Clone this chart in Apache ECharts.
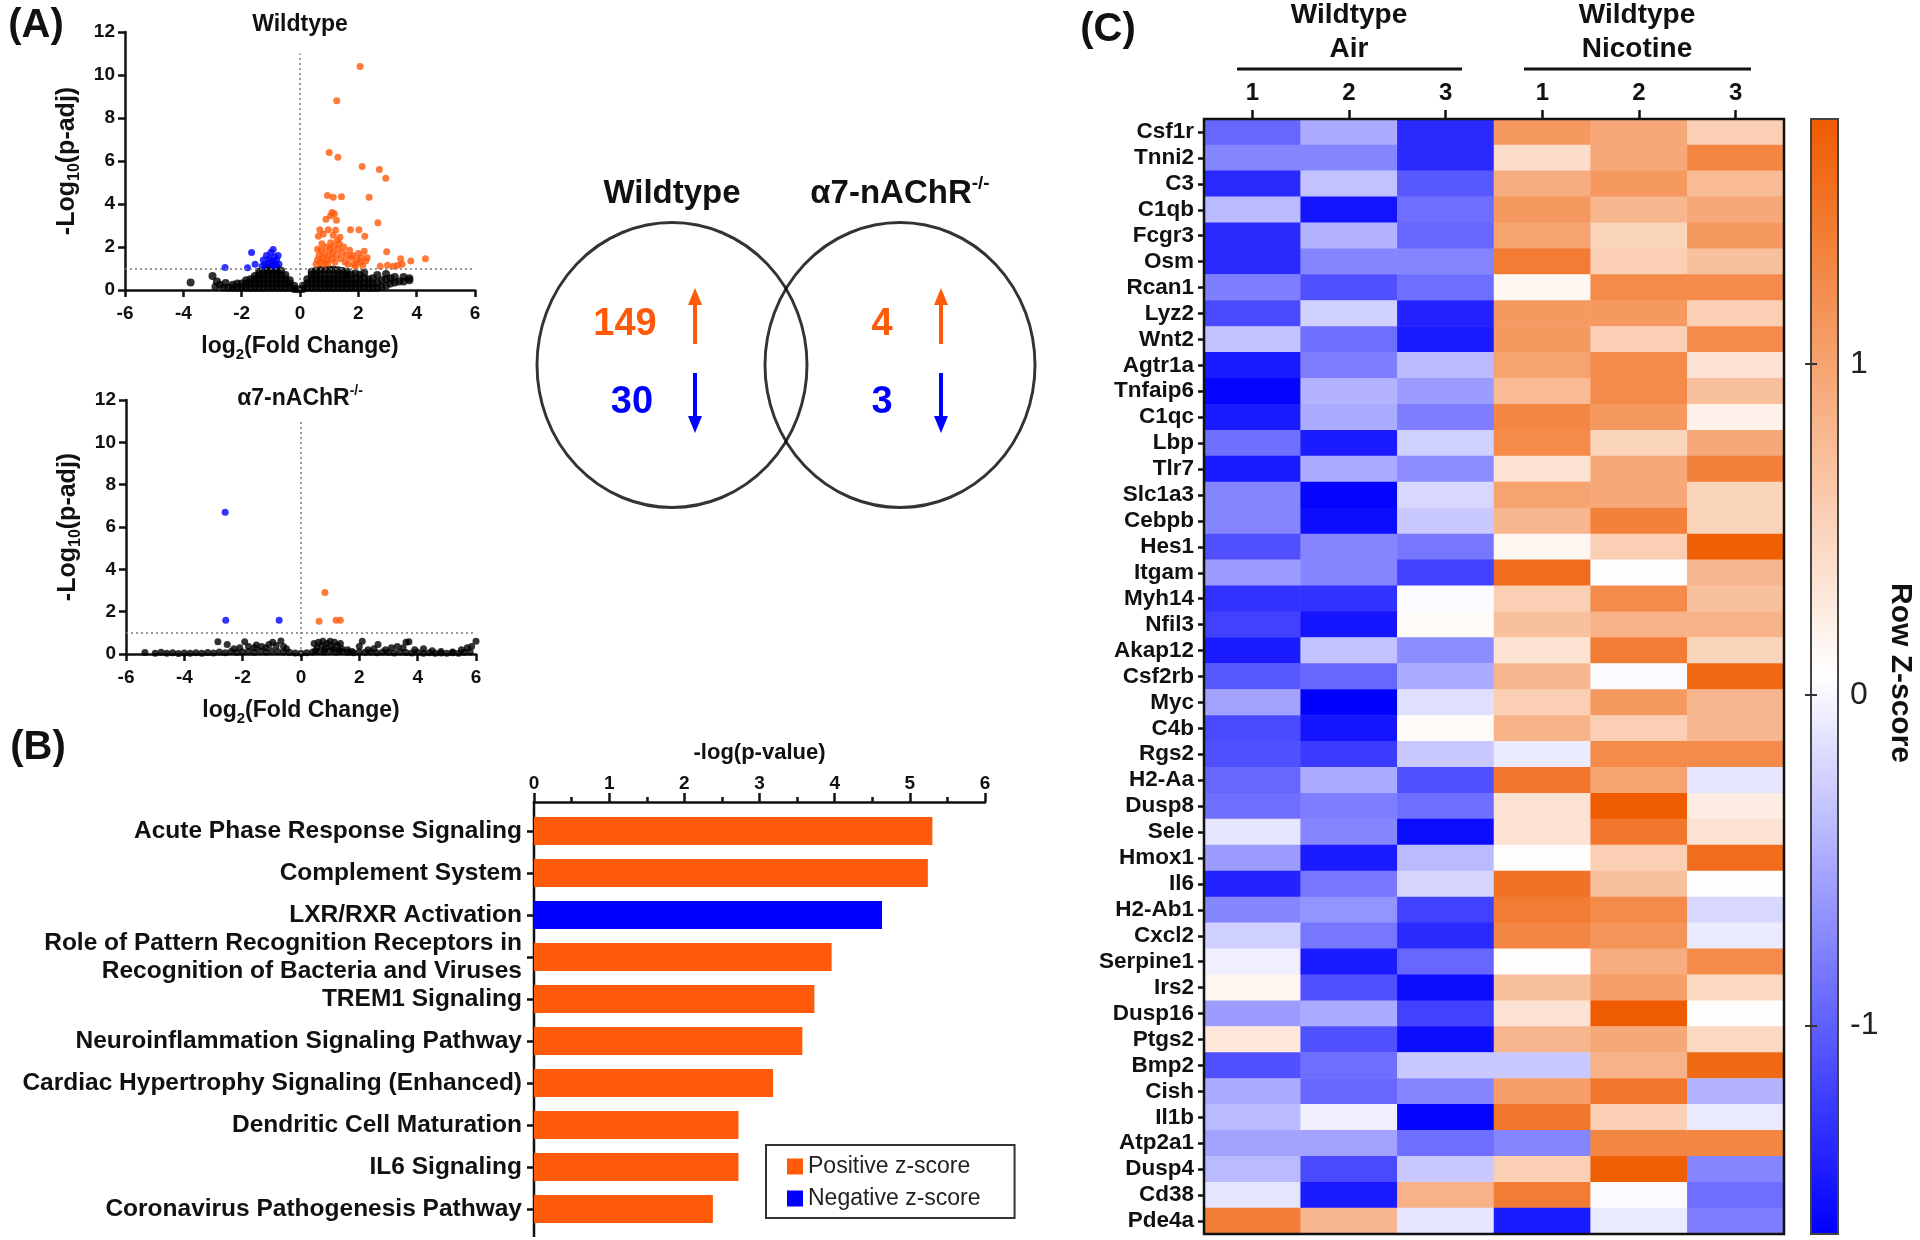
<!DOCTYPE html>
<html>
<head>
<meta charset="utf-8">
<script src="https://cdn.jsdelivr.net/npm/echarts@6/dist/echarts.min.js"></script>
<style>
html, body { margin: 0; padding: 0; background: #fff; }
#chart { width: 1920px; height: 1240px; }
</style>
</head>
<body>
<div id="chart"></div>
<script>
const FONT = 'Liberation Sans, Arial, sans-serif';
const ORANGE = '#FF5A0A';
const BLUE = '#0000FF';
const INK = '#111';

// ---- (A) volcano plots: [log2FC, -log10(p-adj)]
const wtUp = [[2.06,10.4],[1.26,8.8],[1.0,6.4],[1.3,6.17],[2.13,5.74],[2.72,5.6],[2.94,5.2],[0.94,4.39],[1.14,4.31],
  [1.42,4.34],[2.37,4.31],[1.1,3.6],[1.18,3.55],[1.05,3.45],[1.25,3.25],[0.89,3.29],[2.67,3.13],[0.68,2.8],[0.97,2.8],
  [1.22,2.78],[1.73,2.8],[2.02,2.8],[0.63,2.5],[1.14,2.55],[1.37,2.45],[2.22,2.5],[0.8,2.6],[0.55,1.2],[0.6,1.4],
  [0.65,1.6],[0.7,1.3],[0.72,1.85],[0.78,1.5],[0.82,1.2],[0.85,1.7],[0.9,2.0],[0.92,1.4],[0.95,1.25],[1.0,1.6],
  [1.03,1.9],[1.05,2.2],[1.1,1.45],[1.12,1.75],[1.15,2.05],[1.2,1.3],[1.25,1.6],[1.3,1.9],[1.35,2.15],[1.4,1.45],
  [1.45,1.75],[1.5,2.0],[1.55,1.3],[1.6,1.6],[0.6,1.9],[0.75,2.15],[1.28,2.3],[1.65,1.2],[1.7,1.85],[1.75,1.5],
  [1.8,1.6],[1.85,1.2],[1.95,1.4],[2.0,1.7],[2.05,1.3],[2.1,1.5],[2.15,1.15],[2.2,1.8],[2.25,1.35],[2.3,1.5],
  [1.9,1.1],[2.97,1.78],[3.0,1.15],[3.2,1.1],[3.35,1.15],[3.45,1.45],[3.5,1.2],[3.8,1.35],[4.3,1.45],[2.75,1.1]];
const wtDown = [[-2.57,1.05],[-1.8,1.04],[-1.66,1.75],[-1.54,1.2],[-1.26,1.4],[-1.2,1.2],[-1.15,1.6],[-1.1,1.25],
  [-1.05,1.45],[-1.0,1.75],[-0.95,1.1],[-0.92,1.88],[-0.9,1.3],[-0.88,1.55],[-0.85,1.15],[-0.8,1.4],[-0.75,1.6],
  [-0.72,1.2],[-1.3,1.1],[-0.98,1.35]];
const wtNs = [[-3.75,0.35],[-3.0,0.65],[-2.9,0.15],[-2.85,0.4],[-2.75,0.25],[-2.62,0.12],[-2.55,0.32],[-2.45,0.1],
  [-2.3,0.1],[-2.3,0.25],[-2.15,0.1],[-2.15,0.3],[-2.0,0.1],[-2.0,0.3],[-1.85,0.1],[-1.85,0.3],[-1.85,0.45],
  [-1.7,0.1],[-1.7,0.3],[-1.7,0.5],[-1.55,0.1],[-1.55,0.3],[-1.55,0.5],[-1.55,0.65],
  [-1.4,0.1],[-1.4,0.3],[-1.4,0.5],[-1.4,0.7],[-1.4,0.85],[-1.25,0.1],[-1.25,0.3],[-1.25,0.5],[-1.25,0.7],[-1.25,0.9],
  [-1.1,0.1],[-1.1,0.3],[-1.1,0.5],[-1.1,0.7],[-1.1,0.9],[-1.1,1.05],[-0.95,0.1],[-0.95,0.3],[-0.95,0.5],[-0.95,0.7],
  [-0.95,0.9],[-0.95,1.08],[-0.8,0.1],[-0.8,0.3],[-0.8,0.5],[-0.8,0.7],[-0.8,0.9],[-0.8,1.05],
  [-0.65,0.1],[-0.65,0.3],[-0.65,0.5],[-0.65,0.7],[-0.65,0.9],[-0.5,0.1],[-0.5,0.3],[-0.5,0.5],[-0.5,0.7],
  [-0.35,0.1],[-0.35,0.3],[-0.35,0.45],[-0.2,0.05],[-0.2,0.2],[-0.08,0.04],
  [0.1,0.05],[0.1,0.2],[0.25,0.1],[0.25,0.3],[0.25,0.5],[0.4,0.1],[0.4,0.3],[0.4,0.5],[0.4,0.7],[0.4,0.85],
  [0.55,0.1],[0.55,0.3],[0.55,0.5],[0.55,0.7],[0.55,0.9],[0.7,0.1],[0.7,0.3],[0.7,0.5],[0.7,0.7],[0.7,0.95],
  [0.85,0.1],[0.85,0.3],[0.85,0.5],[0.85,0.7],[0.85,0.95],[1.0,0.1],[1.0,0.3],[1.0,0.5],[1.0,0.7],[1.0,0.95],
  [1.15,0.1],[1.15,0.3],[1.15,0.5],[1.15,0.7],[1.15,0.95],[1.3,0.1],[1.3,0.3],[1.3,0.5],[1.3,0.7],[1.3,0.92],
  [1.45,0.1],[1.45,0.3],[1.45,0.5],[1.45,0.7],[1.45,0.88],[1.6,0.1],[1.6,0.3],[1.6,0.5],[1.6,0.7],[1.6,0.85],
  [1.75,0.1],[1.75,0.3],[1.75,0.5],[1.75,0.72],[1.9,0.1],[1.9,0.3],[1.9,0.5],[1.9,0.78],
  [2.05,0.1],[2.05,0.3],[2.05,0.5],[2.05,0.7],[2.2,0.1],[2.2,0.3],[2.2,0.55],[2.2,0.8],
  [2.35,0.1],[2.35,0.3],[2.35,0.5],[2.5,0.1],[2.5,0.3],[2.5,0.55],[2.65,0.1],[2.65,0.35],[2.65,0.7],
  [2.8,0.15],[2.8,0.45],[2.95,0.2],[2.95,0.5],[2.95,0.75],[3.1,0.3],[3.1,0.55],[3.25,0.35],[3.25,0.6],
  [3.4,0.4],[3.55,0.6],[3.55,0.4],[3.75,0.45],[3.75,0.55]];

const koUp = [[0.82,2.9],[0.62,1.55],[1.2,1.6],[1.35,1.6]];
const koDown = [[-2.6,6.7],[-2.58,1.6],[-0.75,1.6]];
const koNs = [[-5.35,0.07],[-5.0,0.03],[-4.8,0.08],[-4.6,0.04],[-4.4,0.06],[-4.2,0.02],[-4.0,0.05],[-3.8,0.03],
  [-3.6,0.06],[-3.4,0.04],[-3.2,0.07],[-3.0,0.05],[-2.8,0.1],[-2.6,0.06],[-2.4,0.12],[-2.2,0.08],[-2.0,0.1],
  [-1.8,0.12],[-1.6,0.08],[-1.4,0.14],[-1.2,0.1],[-1.0,0.15],[-0.8,0.12],[-0.6,0.1],[-0.4,0.08],[-0.2,0.05],
  [0.0,0.03],[0.2,0.06],[0.4,0.1],[0.6,0.12],[0.8,0.1],[1.0,0.14],[1.2,0.1],[1.4,0.12],[1.6,0.08],[1.8,0.06],
  [2.0,0.1],[2.2,0.08],[2.4,0.1],[2.6,0.06],[2.8,0.1],[3.0,0.08],[3.2,0.05],[3.4,0.1],[3.6,0.07],[3.8,0.05],
  [4.0,0.08],[4.2,0.04],[4.4,0.06],[4.6,0.03],[4.8,0.05],[5.0,0.04],[5.2,0.06],[5.4,0.03],[5.6,0.08],[5.8,0.1],
  [-2.85,0.58],[-2.53,0.45],[-2.3,0.25],[-2.1,0.3],[-1.93,0.58],[-1.8,0.35],[-1.6,0.3],[-1.53,0.42],[-1.35,0.35],
  [-1.2,0.3],[-1.1,0.45],[-0.97,0.55],[-0.85,0.4],[-0.69,0.62],[-0.6,0.35],[-0.5,0.25],
  [0.45,0.5],[0.55,0.3],[0.6,0.55],[0.7,0.4],[0.75,0.6],[0.85,0.3],[0.9,0.5],[1.0,0.6],[1.05,0.35],[1.15,0.55],
  [1.25,0.4],[1.35,0.5],[1.4,0.25],[0.5,0.15],[0.8,0.2],[1.1,0.22],[1.3,0.18],
  [1.6,0.2],[1.75,0.12],[2.0,0.35],[2.1,0.6],[2.3,0.2],[2.5,0.25],[2.64,0.45],[2.9,0.2],[3.1,0.3],[3.3,0.35],
  [3.5,0.3],[3.6,0.55],[3.7,0.58],[3.9,0.2],[4.2,0.25],[4.5,0.15],[4.8,0.12],[5.2,0.1],[5.5,0.2],[5.7,0.3],
  [5.85,0.35],[6.0,0.6]];
const pAdjCut = 1;
const zeroLineTop = 11;

// ---- Venn counts
const vennUp = [149, 4];
const vennDown = [30, 3];

// ---- (B) pathways
const pathways = ['Acute Phase Response Signaling', 'Complement System', 'LXR/RXR Activation',
  'Role of Pattern Recognition Receptors in\nRecognition of Bacteria and Viruses', 'TREM1 Signaling',
  'Neuroinflammation Signaling Pathway', 'Cardiac Hypertrophy Signaling (Enhanced)', 'Dendritic Cell Maturation',
  'IL6 Signaling', 'Coronavirus Pathogenesis Pathway'];
const pathwayScores = [5.30, 5.24, 4.63, 3.96, 3.73, 3.57, 3.18, 2.72, 2.72, 2.38];
const pathwayZSign = [1, 1, -1, 1, 1, 1, 1, 1, 1, 1];

// ---- (C) heatmap
const sampleIds = ['Air 1', 'Air 2', 'Air 3', 'Nicotine 1', 'Nicotine 2', 'Nicotine 3'];
const sampleLabels = ['1', '2', '3', '1', '2', '3'];
const genes = ['Csf1r','Tnni2','C3','C1qb','Fcgr3','Osm','Rcan1','Lyz2','Wnt2','Agtr1a','Tnfaip6','C1qc','Lbp',
  'Tlr7','Slc1a3','Cebpb','Hes1','Itgam','Myh14','Nfil3','Akap12','Csf2rb','Myc','C4b','Rgs2','H2-Aa','Dusp8',
  'Sele','Hmox1','Il6','H2-Ab1','Cxcl2','Serpine1','Irs2','Dusp16','Ptgs2','Bmp2','Cish','Il1b','Atp2a1','Dusp4',
  'Cd38','Pde4a'];
const zScores = [
  [-0.95,-0.50,-1.35, 1.10, 0.95, 0.55],
  [-0.75,-0.75,-1.35, 0.40, 0.95, 1.30],
  [-1.35,-0.35,-1.05, 0.90, 1.10, 0.75],
  [-0.40,-1.50,-0.90, 1.10, 0.80, 0.95],
  [-1.35,-0.45,-0.95, 1.00, 0.50, 1.10],
  [-1.35,-0.75,-0.75, 1.40, 0.55, 0.70],
  [-0.80,-1.10,-0.90, 0.15, 1.25, 1.25],
  [-1.15,-0.25,-1.40, 1.10, 1.10, 0.55],
  [-0.35,-0.90,-1.45, 1.10, 0.55, 1.25],
  [-1.45,-0.80,-0.40, 1.00, 1.25, 0.35],
  [-1.60,-0.45,-0.60, 0.75, 1.25, 0.70],
  [-1.45,-0.50,-0.80, 1.30, 1.10, 0.20],
  [-0.90,-1.45,-0.25, 1.25, 0.50, 0.95],
  [-1.45,-0.50,-0.70, 0.35, 0.95, 1.35],
  [-0.75,-1.60,-0.20, 1.00, 0.95, 0.50],
  [-0.75,-1.55,-0.30, 0.80, 1.35, 0.50],
  [-1.10,-0.75,-0.85, 0.15, 0.55, 1.70],
  [-0.60,-0.75,-1.20, 1.55, 0.05, 0.80],
  [-1.30,-1.30, 0.03, 0.55, 1.25, 0.70],
  [-1.20,-1.50, 0.10, 0.70, 0.85, 0.85],
  [-1.45,-0.35,-0.70, 0.35, 1.40, 0.50],
  [-1.05,-0.95,-0.50, 0.80, 0.03, 1.60],
  [-0.55,-1.63,-0.15, 0.55, 1.10, 0.80],
  [-1.15,-1.50, 0.10, 0.85, 0.55, 0.80],
  [-1.10,-1.25,-0.30,-0.08, 1.25, 1.25],
  [-0.95,-0.50,-1.10, 1.45, 1.00,-0.12],
  [-0.90,-0.80,-0.90, 0.35, 1.74, 0.25],
  [-0.12,-0.75,-1.55, 0.35, 1.45, 0.35],
  [-0.60,-1.45,-0.40, 0.08, 0.55, 1.55],
  [-1.40,-0.85,-0.22, 1.50, 0.70, 0.05],
  [-0.75,-0.65,-1.20, 1.40, 1.25,-0.20],
  [-0.25,-0.85,-1.35, 1.30, 1.15,-0.08],
  [-0.05,-1.45,-0.95, 0.08, 0.90, 1.25],
  [ 0.15,-1.10,-1.55, 0.70, 1.05, 0.45],
  [-0.60,-0.50,-1.20, 0.35, 1.74, 0.08],
  [ 0.30,-1.10,-1.55, 0.80, 0.95, 0.45],
  [-1.10,-0.90,-0.30,-0.30, 0.85, 1.60],
  [-0.50,-0.95,-0.75, 1.05, 1.45,-0.45],
  [-0.40,-0.05,-1.60, 1.45, 0.55,-0.08],
  [-0.55,-0.55,-0.90,-0.75, 1.30, 1.30],
  [-0.40,-1.15,-0.30, 0.55, 1.70,-0.75],
  [-0.12,-1.45, 0.85, 1.40, 0.02,-0.90],
  [ 1.40, 0.80,-0.12,-1.45,-0.08,-0.80]
];
const zMin = -1.63, zMax = 1.74;
const zTicks = [-1, 0, 1];

let chart = echarts.init(document.getElementById('chart'));

function volcanoX(gridIndex) {
  return {
    gridIndex: gridIndex, type: 'value', min: -6, max: 6, interval: 2,
    name: '{t|log}{s|2}{t|(Fold Change)}', nameLocation: 'middle', nameGap: 42,
    nameTextStyle: {
      rich: {
        t: { fontFamily: FONT, fontWeight: 'bold', fontSize: 23, color: INK, lineHeight: 30, verticalAlign: 'middle' },
        s: { fontFamily: FONT, fontWeight: 'bold', fontSize: 15, color: INK, lineHeight: 14, verticalAlign: 'bottom' }
      }
    },
    axisLine: { show: true, onZero: false, lineStyle: { color: INK, width: 2.5 } },
    axisTick: { show: true, length: 7, lineStyle: { color: INK, width: 2.5 } },
    axisLabel: { fontFamily: FONT, fontWeight: 'bold', fontSize: 19, color: INK, margin: 14 },
    splitLine: { show: false }
  };
}
function volcanoY(gridIndex) {
  return {
    gridIndex: gridIndex, type: 'value', min: 0, max: 12, interval: 2,
    name: '{t|-Log}{s|10}{t|(p-adj)}', nameLocation: 'middle', nameGap: 42,
    nameTextStyle: {
      rich: {
        t: { fontFamily: FONT, fontWeight: 'bold', fontSize: 25, color: INK, lineHeight: 32, verticalAlign: 'middle' },
        s: { fontFamily: FONT, fontWeight: 'bold', fontSize: 16, color: INK, lineHeight: 15, verticalAlign: 'bottom' }
      }
    },
    axisLine: { show: true, onZero: false, lineStyle: { color: INK, width: 2.5 } },
    axisTick: { show: true, length: 7, lineStyle: { color: INK, width: 2.5 } },
    axisLabel: { fontFamily: FONT, fontWeight: 'bold', fontSize: 19, color: INK, margin: 10 },
    splitLine: { show: false }
  };
}
function guideLines() {
  return {
    silent: true, symbol: 'none', label: { show: false },
    lineStyle: { type: [2, 3], color: '#777', width: 1.5 },
    data: [
      [{ coord: [0, 0] }, { coord: [0, zeroLineTop] }],
      [{ coord: [-6, pAdjCut] }, { coord: [6, pAdjCut] }]
    ]
  };
}
function dots(name, data, color, size, xi, withLines) {
  let s = {
    name: name, type: 'scatter', xAxisIndex: xi, yAxisIndex: xi, data: data,
    symbolSize: size, itemStyle: { color: color }, silent: true
  };
  if (withLines) s.markLine = guideLines();
  return s;
}

function txt(x, y, text, size, color, weight, extra) {
  return {
    type: 'text', x: x, y: y, silent: true,
    style: Object.assign({
      text: text, fontFamily: FONT, fontSize: size, fontWeight: weight || 'bold',
      fill: color || INK, align: 'center', verticalAlign: 'middle'
    }, extra || {})
  };
}
function arrow(x, yFrom, yTo, color) {
  let dir = yTo < yFrom ? -1 : 1;
  return {
    type: 'group', silent: true,
    children: [
      { type: 'line', shape: { x1: x, y1: yFrom, x2: x, y2: yTo - dir * 10 }, style: { stroke: color, lineWidth: 4 } },
      { type: 'polygon', shape: { points: [[x, yTo], [x - 7, yTo - dir * 17], [x + 7, yTo - dir * 17]] }, style: { fill: color } }
    ]
  };
}

const heatData = [];
zScores.forEach((row, r) => row.forEach((v, c) => heatData.push([c, r, v])));

let options = {
  backgroundColor: '#fff',
  animation: false,
  grid: [
    { left: 125, top: 32, width: 350, height: 258 },
    { left: 126, top: 400, width: 350, height: 254 },
    { left: 500, top: 200, width: 600, height: 330, show: false },
    { left: 534, top: 810, width: 451, height: 420 },
    { left: 1204, top: 119, width: 580, height: 1115, show: true, borderColor: INK, borderWidth: 2.5, z: 5 },
    { left: 1811, top: 119, width: 27, height: 1115, show: true, borderColor: '#444', borderWidth: 2, z: 10 }
  ],
  xAxis: [
    volcanoX(0),
    volcanoX(1),
    { gridIndex: 2, type: 'value', min: 500, max: 1100, show: false },
    {
      gridIndex: 3, type: 'value', position: 'top', offset: 8, min: 0, max: 6, interval: 1,
      name: '-log(p-value)', nameLocation: 'middle', nameGap: 38,
      nameTextStyle: { fontFamily: FONT, fontWeight: 'bold', fontSize: 22, color: INK },
      axisLine: { show: true, lineStyle: { color: INK, width: 2.5 } },
      axisTick: { show: true, length: 9, lineStyle: { color: INK, width: 2.5 } },
      minorTick: { show: true, splitNumber: 2, length: 5, lineStyle: { color: INK, width: 2.5 } },
      axisLabel: { fontFamily: FONT, fontWeight: 'bold', fontSize: 19, color: INK, margin: 9 },
      splitLine: { show: false }
    },
    {
      gridIndex: 4, type: 'category', position: 'top', data: sampleIds,
      axisLine: { show: false },
      axisTick: { show: true, alignWithLabel: true, length: 9, lineStyle: { color: INK, width: 2.5 } },
      axisLabel: {
        fontFamily: FONT, fontWeight: 'bold', fontSize: 24, color: INK, margin: 14,
        formatter: (v, i) => sampleLabels[i]
      }
    },
    { gridIndex: 5, type: 'value', min: 0, max: 1, show: false }
  ],
  yAxis: [
    volcanoY(0),
    volcanoY(1),
    { gridIndex: 2, type: 'value', min: 200, max: 530, inverse: true, show: false },
    {
      gridIndex: 3, type: 'category', inverse: true, data: pathways,
      axisLine: { show: false },
      axisTick: { show: true, alignWithLabel: true, length: 7, lineStyle: { color: INK, width: 2.5 } },
      axisLabel: { fontFamily: FONT, fontWeight: 'bold', fontSize: 24.5, lineHeight: 28, color: INK, margin: 12 }
    },
    {
      gridIndex: 4, type: 'category', inverse: true, data: genes,
      axisLine: { show: false },
      axisTick: { show: true, alignWithLabel: true, length: 6, lineStyle: { color: INK, width: 2.5 } },
      axisLabel: { fontFamily: FONT, fontWeight: 'bold', fontSize: 22.5, color: INK, margin: 10, interval: 0 }
    },
    {
      gridIndex: 5, type: 'value', min: zMin, max: zMax, position: 'right', z: 10,
      axisLine: { show: false }, splitLine: { show: false },
      axisTick: { show: true, inside: true, length: 6, customValues: zTicks, lineStyle: { color: '#333', width: 2 } },
      axisLabel: { customValues: zTicks, fontFamily: FONT, fontSize: 32, color: '#222', margin: 12 }
    },
    {
      gridIndex: 5, type: 'value', min: zMin, max: zMax, position: 'left', z: 10,
      axisLine: { show: false }, splitLine: { show: false },
      axisTick: { show: true, inside: true, length: 6, customValues: zTicks, lineStyle: { color: '#333', width: 2 } },
      axisLabel: { show: false }
    }
  ],
  visualMap: {
    type: 'continuous', seriesIndex: 9, min: zMin, max: zMax, calculable: false,
    orient: 'vertical', left: 1811, top: 119, itemWidth: 27, itemHeight: 1115,
    text: ['', ''], padding: 0, textGap: 0,
    inRange: { color: [BLUE, '#FFFFFF', '#EF5B00'] }
  },
  legend: {
    data: ['Positive z-score', 'Negative z-score'],
    orient: 'vertical', left: 766, top: 1145,
    padding: [10, 34, 8, 21], itemGap: 9, itemWidth: 16, itemHeight: 16,
    borderColor: '#333', borderWidth: 2, icon: 'rect',
    textStyle: { fontFamily: FONT, fontSize: 23, color: '#222' }
  },
  series: [
    dots('wt-ns', wtNs, '#000', 8, 0, true),
    dots('wt-up', wtUp, ORANGE, 7, 0, false),
    dots('wt-down', wtDown, BLUE, 7, 0, false),
    dots('ko-ns', koNs, '#000', 7, 1, true),
    dots('ko-up', koUp, ORANGE, 7, 1, false),
    dots('ko-down', koDown, BLUE, 7, 1, false),
    {
      type: 'scatter', xAxisIndex: 2, yAxisIndex: 2, silent: true,
      data: [[672, 365], [900, 365]], symbolSize: [270, 285],
      itemStyle: { color: 'rgba(0,0,0,0)', borderColor: '#000', borderWidth: 3 }
    },
    {
      name: 'Positive z-score', type: 'bar', stack: 'p', xAxisIndex: 3, yAxisIndex: 3, barWidth: 28,
      itemStyle: { color: ORANGE },
      data: pathwayScores.map((v, i) => pathwayZSign[i] > 0 ? v : '-')
    },
    {
      name: 'Negative z-score', type: 'bar', stack: 'p', xAxisIndex: 3, yAxisIndex: 3, barWidth: 28,
      itemStyle: { color: BLUE },
      data: pathwayScores.map((v, i) => pathwayZSign[i] < 0 ? v : '-')
    },
    {
      type: 'heatmap', xAxisIndex: 4, yAxisIndex: 4, data: heatData, silent: true,
      itemStyle: { borderWidth: 0 }
    }
  ],
  graphic: [
    txt(36, 26, '(A)', 40),
    txt(38, 748, '(B)', 40),
    txt(1108, 30, '(C)', 40),
    txt(300, 25, 'Wildtype', 23),
    txt(300, 399, '{t|α7-nAChR}{p|-/-}', 23, INK, 'bold', {
      rich: {
        t: { fontFamily: FONT, fontWeight: 'bold', fontSize: 23, lineHeight: 30, verticalAlign: 'middle', fill: INK },
        p: { fontFamily: FONT, fontWeight: 'bold', fontSize: 14, lineHeight: 14, verticalAlign: 'top', fill: INK }
      }
    }),
    txt(672, 194, 'Wildtype', 33),
    txt(900, 194, '{t|α7-nAChR}{p|-/-}', 33, INK, 'bold', {
      rich: {
        t: { fontFamily: FONT, fontWeight: 'bold', fontSize: 33, lineHeight: 40, verticalAlign: 'middle', fill: INK },
        p: { fontFamily: FONT, fontWeight: 'bold', fontSize: 19, lineHeight: 19, verticalAlign: 'top', fill: INK }
      }
    }),
    txt(625, 325, String(vennUp[0]), 38, ORANGE),
    txt(632, 403, String(vennDown[0]), 38, BLUE),
    txt(882, 325, String(vennUp[1]), 38, ORANGE),
    txt(882, 403, String(vennDown[1]), 38, BLUE),
    arrow(695, 344, 288, ORANGE),
    arrow(695, 373, 433, BLUE),
    arrow(941, 344, 288, ORANGE),
    arrow(941, 373, 433, BLUE),
    { type: 'line', silent: true, shape: { x1: 534, y1: 801, x2: 534, y2: 1237 }, style: { stroke: INK, lineWidth: 2.5 } },
    txt(1349, 32, 'Wildtype\nAir', 28, INK, 'bold', { lineHeight: 34 }),
    txt(1637, 32, 'Wildtype\nNicotine', 28, INK, 'bold', { lineHeight: 34 }),
    { type: 'line', silent: true, shape: { x1: 1237, y1: 69, x2: 1462, y2: 69 }, style: { stroke: INK, lineWidth: 3 } },
    { type: 'line', silent: true, shape: { x1: 1524, y1: 69, x2: 1751, y2: 69 }, style: { stroke: INK, lineWidth: 3 } },
    Object.assign(txt(1900, 673, 'Row Z-score', 30), { rotation: -Math.PI / 2 })
  ]
};
chart.setOption(options);
</script>
</body>
</html>
